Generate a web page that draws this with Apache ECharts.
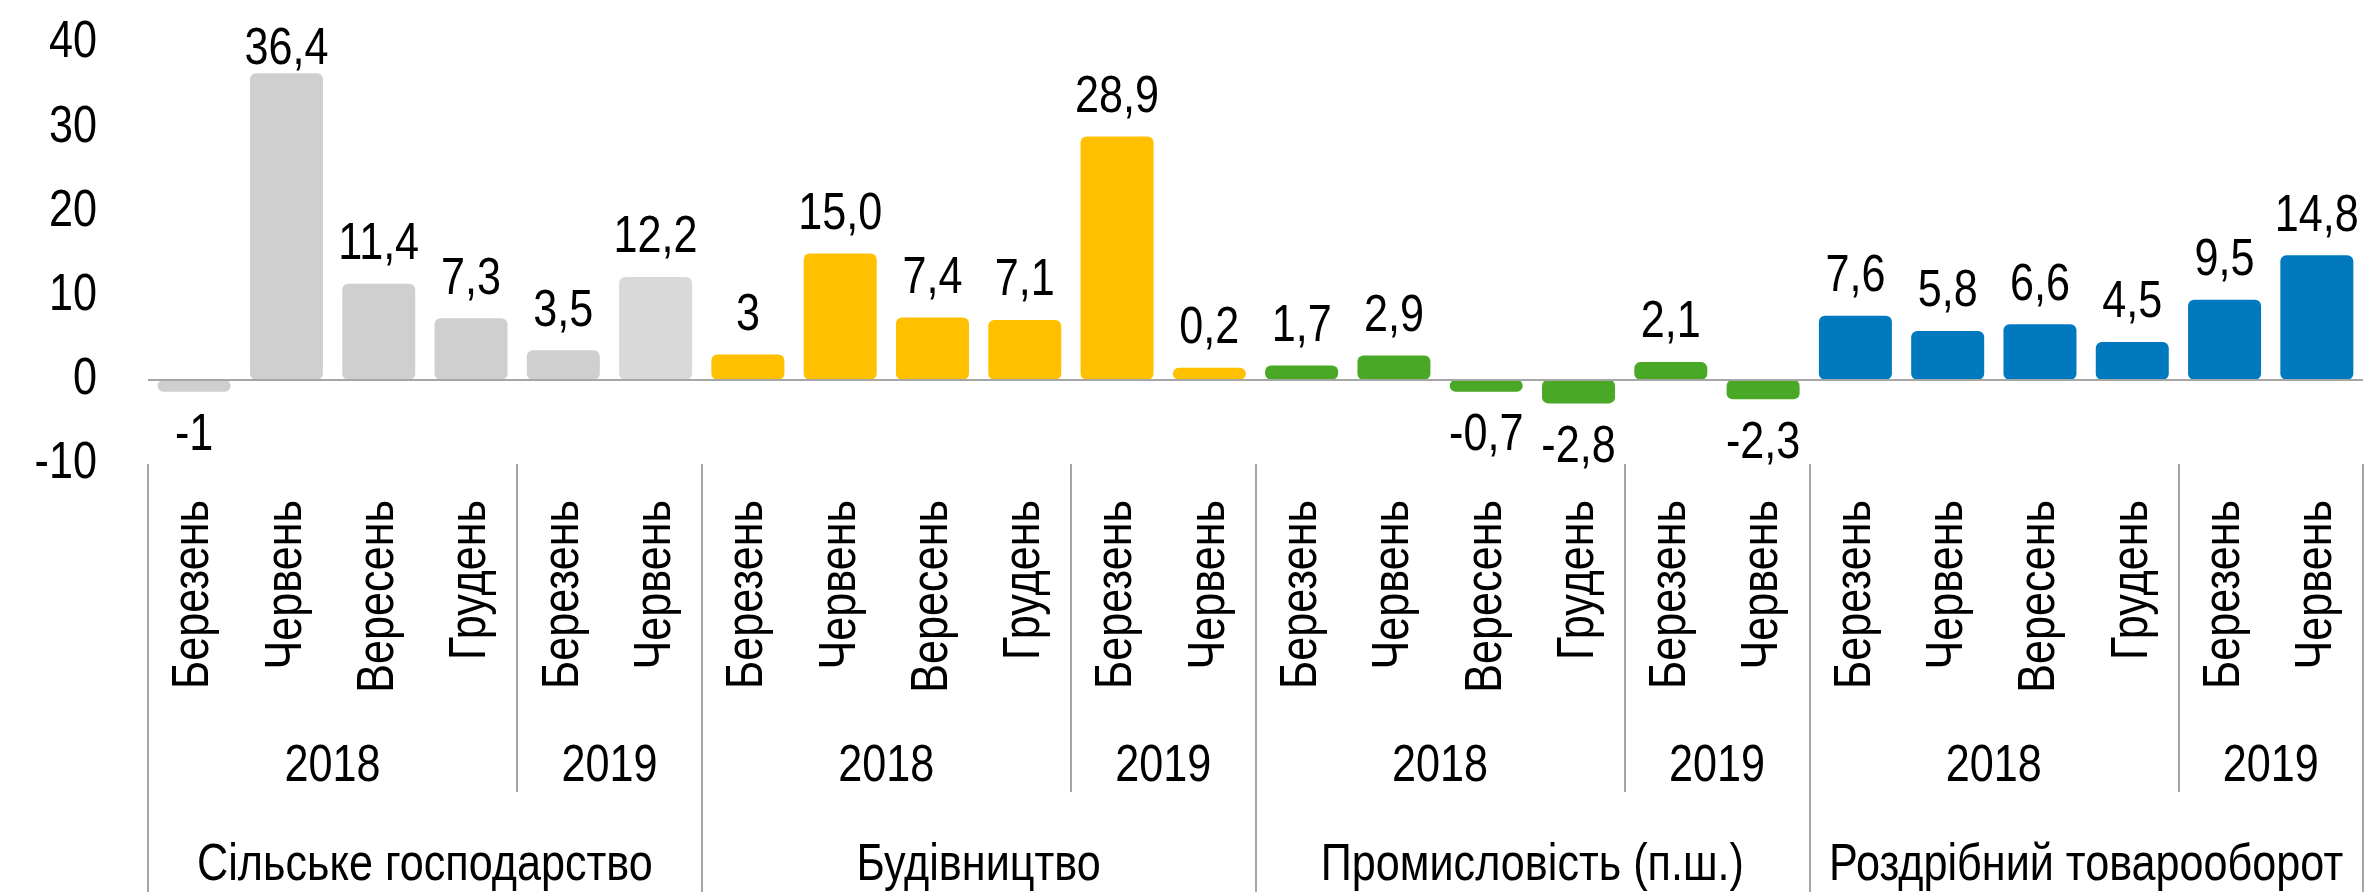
<!DOCTYPE html>
<html>
<head>
<meta charset="utf-8">
<script src="https://cdn.jsdelivr.net/npm/echarts@6/dist/echarts.min.js"></script>
<style>
  html, body { margin: 0; background: #fff; }
  #chart { width: 2366px; height: 892px; }
</style>
</head>
<body>
<div id="chart"></div>
<script>
const months = ['Березень', 'Червень', 'Вересень', 'Грудень', 'Березень', 'Червень'];
const years = ['2018', '2019'];
const monthsPerYear = [4, 2];
const sectors = ['Сільське господарство', 'Будівництво', 'Промисловість (п.ш.)', 'Роздрібний товарооборот'];

// values as printed on the chart (decimal point, shown with a comma)
const agriValues = ['-1', '36.4', '11.4', '7.3', '3.5', '12.2'];
const buildValues = ['3', '15.0', '7.4', '7.1', '28.9', '0.2'];
const industryValues = ['1.7', '2.9', '-0.7', '-2.8', '2.1', '-2.3'];
const retailValues = ['7.6', '5.8', '6.6', '4.5', '9.5', '14.8'];

const yTicks = { min: -10, max: 40, step: 10 };

const sectorColors = ['#d0cfd0', '#ffc000', '#49a825', '#0079be'];
const font = "'Liberation Sans', Arial, sans-serif";
const squeeze = 0.83; // the original lettering is narrow

const sectorValues = [agriValues, buildValues, industryValues, retailValues];
const perSector = months.length;

function labelDistance(v) {
  if (v < 0) return 18;
  // labels near the top of the plot sit right on the bar
  return v > yTicks.max - 5 ? -2 : 13;
}

const monthLabels = [];
const barData = [];
sectorValues.forEach((vals, s) => {
  vals.forEach((str, i) => {
    monthLabels.push(months[i]);
    const v = Number(str);
    let color = sectorColors[s];
    if (s === 0 && i === perSector - 1) color = '#d9d9d9';
    barData.push({
      value: v,
      itemStyle: { color: color },
      label: {
        formatter: str.replace('.', ','),
        position: v < 0 ? 'bottom' : 'top',
        distance: labelDistance(v)
      }
    });
  });
});

// boundary axes: n+1 slots, labels sit on boundaries between bars
const total = sectors.length * perSector;
const yearLabels = new Array(total + 1).fill('');
const sectorLabels = new Array(total + 1).fill('');
const yearSeps = [];
const sectorSeps = [];
sectors.forEach((name, s) => {
  const start = s * perSector;
  sectorLabels[start + perSector / 2] = name;
  sectorSeps.push(start);
  let offset = start;
  years.forEach((y, k) => {
    yearLabels[offset + monthsPerYear[k] / 2] = y;
    offset += monthsPerYear[k];
    if (k < years.length - 1) yearSeps.push(offset);
  });
});
sectorSeps.push(total);

const chart = echarts.init(document.getElementById('chart'));

const textStyle = { fontFamily: font, fontSize: 52, color: '#000' };
const sepStyle = { color: '#a6a6a6', width: 2 };

const option = {
  animation: false,
  backgroundColor: '#fff',
  grid: { left: 148, right: 3, top: 43, bottom: 428, containLabel: false, outerBoundsMode: 'none' },
  xAxis: [
    {
      type: 'category',
      position: 'bottom',
      data: monthLabels,
      axisLine: { show: false },
      axisTick: { show: false },
      axisLabel: Object.assign({ rotate: 90, margin: 36, interval: 0 }, textStyle)
    },
    {
      type: 'category',
      position: 'bottom',
      boundaryGap: false,
      data: yearLabels,
      axisLine: { show: false },
      axisTick: {
        show: true,
        interval: (i) => yearSeps.includes(i),
        length: 328,
        lineStyle: sepStyle
      },
      axisLabel: Object.assign({ interval: 0, margin: 277, lineHeight: 52 }, textStyle)
    },
    {
      type: 'category',
      position: 'bottom',
      boundaryGap: false,
      data: sectorLabels,
      axisLine: { show: false },
      axisTick: {
        show: true,
        interval: (i) => sectorSeps.includes(i),
        length: 440,
        lineStyle: sepStyle
      },
      axisLabel: Object.assign({ interval: 0, margin: 376, lineHeight: 52 }, textStyle)
    }
  ],
  yAxis: {
    type: 'value',
    min: yTicks.min,
    max: yTicks.max,
    interval: yTicks.step,
    axisLine: { show: false },
    axisTick: { show: false },
    splitLine: { show: false },
    axisLabel: Object.assign({ margin: 51 }, textStyle)
  },
  series: [
    {
      type: 'bar',
      xAxisIndex: 0,
      data: barData,
      barWidth: 73,
      barMinHeight: 12,
      itemStyle: { borderRadius: 6 },
      label: Object.assign({ show: true, lineHeight: 52 }, textStyle),
      markLine: {
        silent: true,
        symbol: 'none',
        label: { show: false },
        lineStyle: { color: '#a6a6a6', width: 2, type: 'solid' },
        data: [{ yAxis: 0 }]
      }
    }
  ]
};

chart.setOption(option);

// narrow every piece of text horizontally, around its own anchor
function condenseText(scale) {
  const zr = chart.getZr();
  const texts = new Set();
  function walk(el) {
    if (el.type === 'text') texts.add(el);
    const tc = el.getTextContent && el.getTextContent();
    if (tc) texts.add(tc);
    if (el.isGroup) el.eachChild(walk);
  }
  zr.storage.getRoots().forEach(walk);
  texts.forEach(t => {
    t.scaleX = scale;
    t.markRedraw();
    if (t.__hostTarget) t.__hostTarget.markRedraw();
  });
  zr.refreshImmediately();
}
condenseText(squeeze);
</script>
</body>
</html>
